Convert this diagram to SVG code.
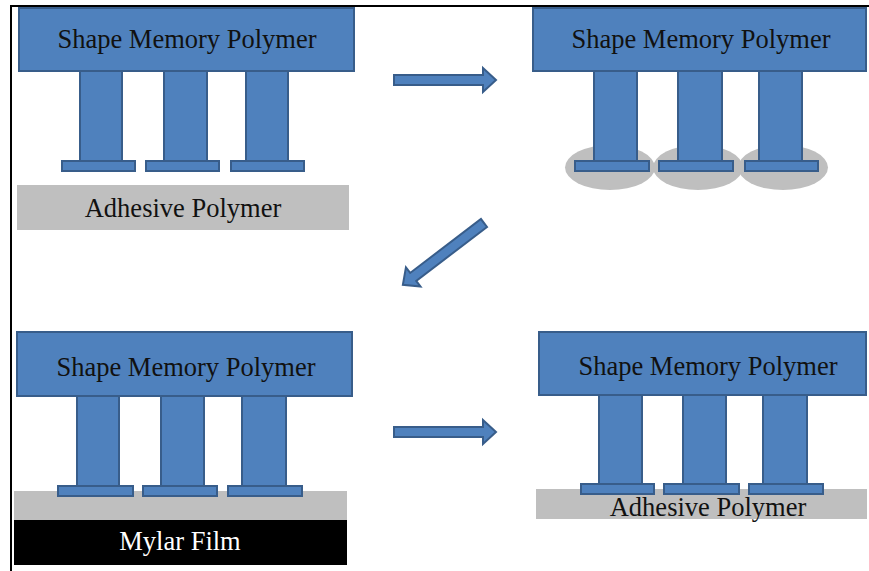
<svg xmlns="http://www.w3.org/2000/svg" xmlns:xlink="http://www.w3.org/1999/xlink" width="869" height="571" viewBox="0 0 869 571">
<style>
.b{fill:#4f81bd;stroke:#385d8a;stroke-width:2}
.g{fill:#bfbfbf}
.t{font-family:"Liberation Serif","Times New Roman",serif;font-size:26.5px;fill:#111;text-anchor:middle}
.w{fill:#fff}
</style>
<defs>
<path id="arr" class="b" d="M0,-5 H89 V-12 L102,0 L89,12 V5 H0 Z"/>
</defs>
<rect x="0" y="0" width="869" height="571" fill="#fff"/>
<path d="M11,571 V6 H869" fill="none" stroke="#000" stroke-width="2"/>

<g id="panel1">
  <rect class="g" x="17" y="185" width="332" height="45"/>
  <text class="t" x="183" y="217">Adhesive Polymer</text>
  <rect class="b" x="80" y="68" width="42" height="94"/>
  <rect class="b" x="164" y="68" width="43" height="94"/>
  <rect class="b" x="246" y="68" width="42" height="94"/>
  <rect class="b" x="62" y="161" width="73" height="10"/>
  <rect class="b" x="146" y="161" width="73" height="10"/>
  <rect class="b" x="231" y="161" width="73" height="10"/>
  <rect class="b" x="19" y="8" width="335" height="63"/>
  <text class="t" x="187" y="48">Shape Memory Polymer</text>
</g>

<g id="panel2">
  <ellipse class="g" cx="610" cy="167.5" rx="45" ry="22.5"/>
  <ellipse class="g" cx="698" cy="167.5" rx="45" ry="22.5"/>
  <ellipse class="g" cx="783" cy="167.5" rx="45" ry="22.5"/>
  <rect class="b" x="594" y="68" width="43" height="94"/>
  <rect class="b" x="678" y="68" width="44" height="94"/>
  <rect class="b" x="759" y="68" width="43" height="94"/>
  <rect class="b" x="575" y="161" width="74" height="10"/>
  <rect class="b" x="659" y="161" width="74" height="10"/>
  <rect class="b" x="745" y="161" width="73" height="10"/>
  <rect class="b" x="533" y="8" width="333" height="63"/>
  <text class="t" x="701" y="48">Shape Memory Polymer</text>
</g>

<g id="panel3">
  <rect class="g" x="14" y="491" width="333" height="29"/>
  <rect x="14" y="520" width="333" height="45" fill="#000"/>
  <text class="t w" x="180" y="550">Mylar Film</text>
  <rect class="b" x="77" y="393" width="42" height="93"/>
  <rect class="b" x="161" y="393" width="43" height="93"/>
  <rect class="b" x="242" y="393" width="44" height="93"/>
  <rect class="b" x="58" y="486" width="75" height="10"/>
  <rect class="b" x="143" y="486" width="74" height="10"/>
  <rect class="b" x="228" y="486" width="74" height="10"/>
  <rect class="b" x="17" y="332" width="335" height="64"/>
  <text class="t" x="186" y="376">Shape Memory Polymer</text>
</g>

<g id="panel4">
  <rect class="g" x="536" y="489" width="331" height="30"/>
  <text class="t" x="708" y="516">Adhesive Polymer</text>
  <rect class="b" x="599" y="392" width="43" height="92"/>
  <rect class="b" x="683" y="392" width="43" height="92"/>
  <rect class="b" x="763" y="392" width="44" height="92"/>
  <rect class="b" x="581" y="484" width="73" height="10"/>
  <rect class="b" x="664" y="484" width="75" height="10"/>
  <rect class="b" x="749" y="484" width="74" height="10"/>
  <rect class="b" x="539" y="332" width="327" height="63"/>
  <text class="t" x="708" y="375">Shape Memory Polymer</text>
</g>

<g id="connectors">
  <use xlink:href="#arr" transform="translate(394,80)"/>
  <use xlink:href="#arr" transform="translate(484,223) rotate(142.7)"/>
  <use xlink:href="#arr" transform="translate(394,432)"/>
</g>
</svg>
